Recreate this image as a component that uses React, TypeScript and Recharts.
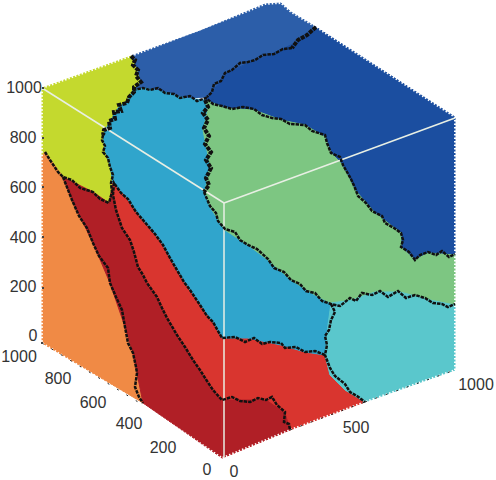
import React from 'react';
import { ScatterChart, Scatter, XAxis, YAxis } from 'recharts';

type Pt = [number, number];

// regions in image coordinates
const mediumBlue: Pt[] = [[131, 56], [200, 31], [248, 11], [265, 4], [281, 3], [291, 12], [316, 27], [295, 43], [270, 55], [248, 63], [227, 73], [208, 97], [185, 98], [165, 92], [145, 88], [133, 90], [140, 82], [136, 68]];
const darkBlue: Pt[] = [[316, 27], [455, 117], [455, 255], [428, 253], [415, 260], [401, 247], [401, 233], [375, 213], [355, 190], [341, 163], [331, 153], [325, 137], [305, 125], [281, 120], [254, 110], [225, 108], [205, 100], [208, 97], [227, 73], [248, 63], [270, 55], [295, 43]];
const yellowGreen: Pt[] = [[42, 88], [131, 56], [136, 68], [140, 82], [133, 90], [128, 100], [118, 108], [108, 125], [103, 135], [105, 150], [110, 165], [112, 185], [109, 203], [93, 192], [63, 177], [45, 152], [42, 156]];
const orange: Pt[] = [[42, 156], [45, 152], [63, 177], [72, 200], [93, 243], [110, 283], [125, 327], [133, 353], [137, 373], [143, 403], [42, 343]];
const darkRedLeft: Pt[] = [[63, 177], [93, 192], [109, 203], [113, 183], [116, 210], [122, 228], [130, 240], [138, 267], [147, 283], [157, 297], [167, 318], [177, 335], [185, 347], [200, 370], [213, 390], [222, 400], [222, 458], [143, 403], [137, 373], [133, 353], [125, 327], [110, 283], [93, 243], [72, 200]];
const red: Pt[] = [[113, 183], [123, 193], [143, 220], [160, 240], [177, 270], [190, 290], [213, 322], [222, 338], [248, 338], [281, 345], [305, 352], [325, 355], [330, 375], [345, 390], [365, 402], [290, 430], [222, 458], [222, 400], [213, 390], [200, 370], [185, 347], [177, 335], [167, 318], [157, 297], [147, 283], [138, 267], [130, 240], [122, 228], [116, 210]];
const darkRedBottom: Pt[] = [[222, 400], [245, 400], [266, 400], [285, 413], [290, 430], [222, 458]];
const lightBlue: Pt[] = [[103, 135], [108, 125], [118, 108], [128, 100], [133, 90], [145, 88], [165, 92], [185, 98], [205, 100], [208, 110], [203, 130], [210, 165], [205, 192], [210, 207], [225, 230], [248, 245], [268, 260], [291, 280], [315, 295], [331, 303], [328, 325], [325, 355], [305, 352], [281, 345], [248, 338], [222, 338], [213, 322], [190, 290], [177, 270], [160, 240], [143, 220], [123, 193], [113, 183], [110, 165], [105, 150]];
const green: Pt[] = [[205, 100], [225, 108], [254, 110], [281, 120], [305, 125], [325, 137], [331, 153], [341, 163], [355, 190], [375, 213], [401, 233], [401, 247], [415, 260], [428, 253], [455, 255], [455, 305], [430, 300], [400, 292], [375, 292], [352, 300], [331, 303], [315, 295], [291, 280], [268, 260], [248, 245], [225, 230], [210, 207], [205, 192], [210, 165], [203, 130], [208, 110]];
const teal: Pt[] = [[331, 303], [352, 300], [375, 292], [400, 292], [430, 300], [455, 305], [455, 370], [365, 402], [345, 390], [330, 375], [325, 355], [328, 325]];

// black borders between the regions, rough as in the picture
const borders: Pt[][] = [
  [[103, 135], [102, 140], [105, 146], [103, 152], [108, 158], [110, 167], [113, 175], [111, 183], [112, 192], [109, 203]],
  [[133, 90], [143, 88], [150, 90], [158, 88], [165, 93], [174, 94], [180, 98], [190, 96], [197, 101], [206, 98], [213, 104], [222, 106], [232, 109], [243, 107], [254, 109], [262, 115], [272, 118], [281, 119], [290, 124], [305, 125], [312, 131], [325, 135], [327, 143], [331, 153], [340, 157], [343, 165], [347, 172], [351, 179], [355, 188], [358, 196], [366, 203], [372, 211], [382, 216], [385, 223], [394, 228], [401, 233], [403, 240], [401, 247], [409, 252], [415, 260], [420, 255], [428, 252], [436, 255], [442, 251], [449, 257], [455, 254]],
  [[292, 48], [283, 49], [274, 54], [263, 55], [255, 60], [248, 62], [240, 63], [232, 70], [225, 73], [221, 81], [214, 84], [212, 92], [207, 97]],
  [[204, 192], [210, 206], [216, 213], [218, 221], [225, 229], [235, 232], [240, 240], [248, 245], [257, 249], [268, 259], [274, 268], [284, 272], [291, 280], [300, 284], [306, 291], [315, 293], [322, 301], [331, 304], [340, 306], [350, 298], [356, 301], [362, 293], [372, 295], [380, 291], [388, 297], [398, 291], [406, 298], [415, 295], [425, 298], [433, 303], [442, 304], [448, 307], [455, 304]],
  [[331, 304], [335, 312], [331, 320], [329, 330], [325, 336], [327, 345], [325, 355], [330, 368], [335, 376], [345, 384], [350, 392], [357, 396], [365, 402]],
  [[325, 355], [315, 351], [305, 352], [296, 347], [285, 348], [281, 343], [270, 342], [262, 344], [254, 338], [245, 342], [235, 337], [222, 338], [218, 331], [213, 322], [207, 316], [200, 305], [190, 290], [184, 282], [177, 270], [170, 258], [163, 245], [155, 234], [143, 220], [136, 212], [128, 199], [121, 193], [114, 183], [113, 195], [116, 210], [122, 228], [130, 240], [134, 252], [138, 267], [143, 275], [147, 283], [157, 297], [162, 308], [167, 318], [177, 335], [185, 347], [193, 360], [200, 370], [207, 381], [213, 390], [222, 400], [232, 397], [240, 401], [250, 402], [258, 398], [266, 400], [272, 397], [277, 405], [285, 412], [284, 422], [289, 424], [290, 430]],
  [[45, 152], [50, 160], [58, 172], [63, 177], [72, 180], [80, 188], [93, 192], [100, 199], [109, 203]],
  [[63, 177], [72, 200], [79, 216], [87, 228], [93, 243], [99, 256], [108, 268], [110, 283], [116, 297], [122, 310], [125, 327], [128, 343], [133, 353], [136, 367], [137, 373], [135, 387], [139, 397], [143, 403]],
];

// the stretches where the border is thickest
const thickBorders: Pt[][] = [
  [[131, 56], [135, 60], [133, 65], [138, 70], [136, 76], [141, 82], [134, 87], [134, 92], [129, 97], [127, 103], [119, 105], [121, 111], [114, 112], [115, 119], [109, 121], [110, 128], [104, 130], [103, 135]],
  [[205, 100], [208, 107], [203, 113], [208, 120], [204, 128], [209, 136], [205, 144], [211, 152], [206, 160], [211, 168], [206, 178], [209, 185], [204, 192]],
  [[316, 27], [307, 35], [298, 40], [292, 48]],
];

const sparseBorders: Pt[][] = [
  [[365, 402], [455, 370]],
  [[290, 430], [365, 402]],
  [[42, 343], [143, 405]],
];

const frontEdges: Pt[][] = [
  [[42, 88], [224, 203]],
  [[224, 203], [455, 118]],
  [[224, 203], [224, 458]],
];

const outline: Pt[] = [[42, 88], [131, 56], [248, 11], [265, 4], [281, 3], [291, 12], [316, 27], [455, 117], [455, 370], [365, 402], [290, 430], [222, 458], [143, 405], [42, 343], [42, 88]];

const tickMarks: Pt[] = [[43, 88], [43, 138], [43, 187], [43, 237], [43, 288], [42, 343]];

const tickLabels: { x: number; y: number; label: string }[] = [
  { x: 24, y: 87, label: '1000' },
  { x: 23, y: 137, label: '800' },
  { x: 23, y: 187, label: '600' },
  { x: 23, y: 237, label: '400' },
  { x: 23, y: 286, label: '200' },
  { x: 33, y: 335, label: '0' },
  { x: 19, y: 356, label: '1000' },
  { x: 58, y: 378, label: '800' },
  { x: 93, y: 402, label: '600' },
  { x: 129, y: 423, label: '400' },
  { x: 163, y: 447, label: '200' },
  { x: 207, y: 469, label: '0' },
  { x: 234, y: 471, label: '0' },
  { x: 356, y: 427, label: '500' },
  { x: 476, y: 384, label: '1000' },
];

const regions: [Pt[], string][] = [
  [mediumBlue, '#2c5ea9'],
  [darkBlue, '#1b4ea0'],
  [yellowGreen, '#c4d92e'],
  [orange, '#f08a45'],
  [darkRedLeft, '#b01f26'],
  [red, '#d9352f'],
  [darkRedBottom, '#b01f26'],
  [lightBlue, '#30a5cc'],
  [green, '#7dc682'],
  [teal, '#5ac7cc'],
];

const toData = (pts: Pt[]) => pts.map(([x, y]) => ({ x, y }));
const noDot = () => <g />;

export default function App() {
  return (
    <div style={{ position: 'absolute', left: 0, top: 0 }}>
      <ScatterChart width={496} height={480} margin={{ top: 0, right: 0, bottom: 0, left: 0 }}>
        <XAxis type="number" dataKey="x" domain={[0, 496]} hide />
        <YAxis type="number" dataKey="y" domain={[0, 480]} reversed hide />
        {regions.map(([pts, color], i) => (
          <Scatter
            key={i}
            data={toData([...pts, pts[0]])}
            line={{ fill: color, stroke: color, strokeWidth: 1 }}
            shape={noDot}
            isAnimationActive={false}
          />
        ))}
        <Scatter
          data={toData(outline)}
          line={{ stroke: '#ffffff', strokeWidth: 2, strokeDasharray: '1.5 2' }}
          shape={noDot}
          isAnimationActive={false}
        />
        {frontEdges.map((pts, i) => (
          <Scatter
            key={i}
            data={toData(pts)}
            line={{ stroke: '#e8efe4', strokeWidth: 1.5 }}
            shape={noDot}
            isAnimationActive={false}
          />
        ))}
        {sparseBorders.map((pts, i) => (
          <Scatter
            key={i}
            data={toData(pts)}
            line={{ stroke: '#222222', strokeWidth: 1, strokeDasharray: '2 9' }}
            shape={noDot}
            isAnimationActive={false}
          />
        ))}
        {borders.map((pts, i) => (
          <Scatter
            key={i}
            data={toData(pts)}
            line={{ stroke: '#111111', strokeWidth: 2.5, strokeDasharray: '3.5 1' }}
            shape={noDot}
            isAnimationActive={false}
          />
        ))}
        {thickBorders.map((pts, i) => (
          <Scatter
            key={i}
            data={toData(pts)}
            line={{ stroke: '#111111', strokeWidth: 4, strokeDasharray: '4 1' }}
            shape={noDot}
            isAnimationActive={false}
          />
        ))}
        <Scatter
          data={toData(tickMarks)}
          isAnimationActive={false}
          shape={(p: any) => <rect x={p.cx - 1} y={p.cy - 1} width={2} height={2} fill="#444444" />}
        />
        <Scatter
          data={tickLabels}
          isAnimationActive={false}
          shape={(p: any) => (
            <text
              x={p.cx}
              y={p.cy}
              textAnchor="middle"
              dominantBaseline="central"
              fontFamily="Liberation Sans"
              fontSize={16}
              fill="#333333"
            >
              {p.payload.label}
            </text>
          )}
        />
      </ScatterChart>
    </div>
  );
}
